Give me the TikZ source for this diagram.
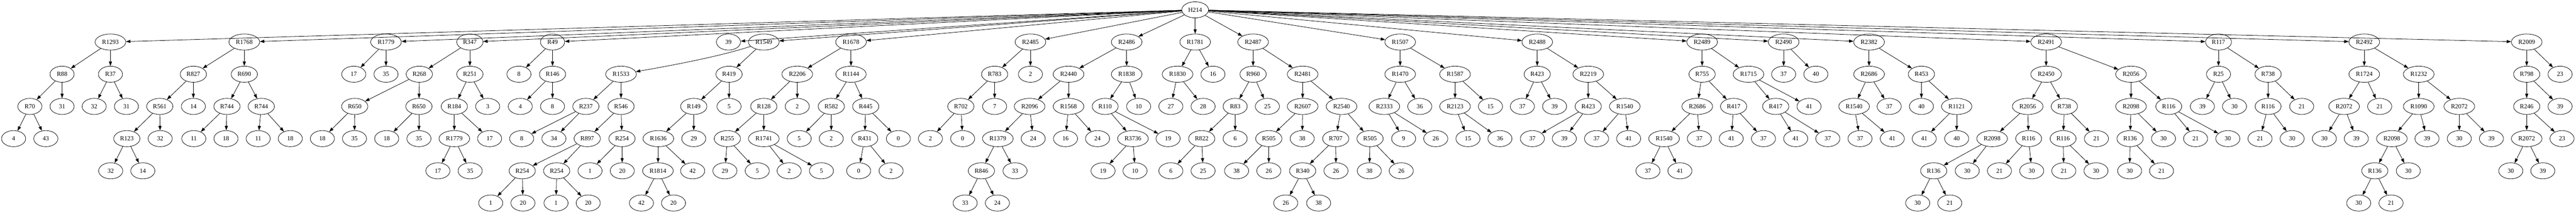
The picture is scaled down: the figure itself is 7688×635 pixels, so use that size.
\documentclass[tikz,border=0pt]{standalone}
\usepackage{fontspec}
\setmainfont{Liberation Serif}
\usetikzlibrary{shapes.geometric,arrows.meta}
\tikzset{
  nd/.style={draw, ellipse, line width=1.2pt, minimum width=72pt, minimum height=48pt,
    inner xsep=7.5pt, inner ysep=3pt, font=\fontsize{18.67}{20}\selectfont},
  edge/.style={line width=1.2pt, -{Triangle[length=13.3pt,width=9.3pt]}}
}
\begin{document}
\begin{tikzpicture}[x=1pt,y=1pt]
\useasboundingbox (0,0) rectangle (7688,-635);
% level 0
\node[nd] (root) at (3566.9,-29.3) {H214};
% level 1
\node[nd] (a) at (329.6,-125.3) {R1293};
\node[nd] (b) at (729.1,-125.3) {R1768};
\node[nd] (c) at (1152.0,-125.3) {R1779};
\node[nd] (d) at (1402.3,-125.3) {R347};
\node[nd] (e) at (1649.0,-125.3) {R49};
\node[nd] (f) at (2174.1,-125.3) {39};
\node[nd] (g) at (2279.5,-125.3) {R1549};
\node[nd] (h) at (2539.8,-125.3) {R1678};
\node[nd] (i) at (3075.3,-125.3) {R2485};
\node[nd] (j) at (3362.5,-125.3) {R2486};
\node[nd] (k) at (3566.9,-125.3) {R1781};
\node[nd] (l) at (3739.8,-125.3) {R2487};
\node[nd] (m) at (4178.7,-125.3) {R1507};
\node[nd] (n) at (4587.8,-125.3) {R2488};
\node[nd] (o) at (5079.9,-125.3) {R2489};
\node[nd] (p) at (5323.2,-125.3) {R2490};
\node[nd] (q) at (5578.1,-125.3) {R2382};
\node[nd] (r) at (6106.6,-125.3) {R2491};
\node[nd] (s) at (6621.0,-125.3) {R117};
\node[nd] (t) at (7056.0,-125.3) {R2492};
\node[nd] (u) at (7540.8,-125.3) {R2009};
% subtree a
\node[nd] (a1) at (185.3,-221.3) {R88};
\node[nd] (a2) at (329.6,-221.3) {R37};
\node[nd] (a11) at (89.1,-317.3) {R70};
\node[nd] (a12) at (185.3,-317.3) {31};
\node[nd] (a21) at (281.1,-317.3) {32};
\node[nd] (a22) at (377.3,-317.3) {31};
\node[nd] (a111) at (40.6,-413.3) {4};
\node[nd] (a112) at (136.8,-413.3) {43};
% subtree b
\node[nd] (b1) at (577.1,-221.3) {R827};
\node[nd] (b2) at (729.1,-221.3) {R690};
\node[nd] (b11) at (476.8,-317.3) {R561};
\node[nd] (b12) at (577.1,-317.3) {14};
\node[nd] (b111) at (378.5,-413.3) {R123};
\node[nd] (b112) at (478.0,-413.3) {32};
\node[nd] (b1111) at (330.4,-509.3) {32};
\node[nd] (b1112) at (426.2,-509.3) {14};
\node[nd] (b21) at (677.3,-317.3) {R744};
\node[nd] (b22) at (779.7,-317.3) {R744};
\node[nd] (b211) at (578.4,-413.3) {11};
\node[nd] (b212) at (674.4,-413.3) {18};
\node[nd] (b221) at (770.6,-413.3) {11};
\node[nd] (b222) at (866.4,-413.3) {18};
% subtree c
\node[nd] (c1) at (1055.8,-221.3) {17};
\node[nd] (c2) at (1152.0,-221.3) {35};
% subtree d
\node[nd] (d1) at (1251.5,-221.3) {R268};
\node[nd] (d2) at (1402.3,-221.3) {R251};
\node[nd] (d11) at (1058.7,-317.3) {R650};
\node[nd] (d12) at (1250.3,-317.3) {R650};
\node[nd] (d111) at (962.1,-413.3) {18};
\node[nd] (d112) at (1057.9,-413.3) {35};
\node[nd] (d121) at (1154.1,-413.3) {18};
\node[nd] (d122) at (1250.3,-413.3) {35};
\node[nd] (d21) at (1355.9,-317.3) {R184};
\node[nd] (d22) at (1455.4,-317.3) {3};
\node[nd] (d211) at (1355.9,-413.3) {R1779};
\node[nd] (d212) at (1461.2,-413.3) {17};
\node[nd] (d2111) at (1306.9,-509.3) {17};
\node[nd] (d2112) at (1403.1,-509.3) {35};
% subtree e
\node[nd] (e1) at (1548.7,-221.3) {8};
\node[nd] (e2) at (1649.0,-221.3) {R146};
\node[nd] (e21) at (1552.8,-317.3) {4};
\node[nd] (e22) at (1649.0,-317.3) {8};
% subtree g
\node[nd] (g1) at (1853.4,-221.3) {R1533};
\node[nd] (g2) at (2175.8,-221.3) {R419};
\node[nd] (g11) at (1748.5,-317.3) {R237};
\node[nd] (g12) at (1853.4,-317.3) {R546};
\node[nd] (g111) at (1556.9,-413.3) {8};
\node[nd] (g112) at (1653.1,-413.3) {34};
\node[nd] (g121) at (1752.6,-413.3) {R897};
\node[nd] (g122) at (1856.3,-413.3) {R254};
\node[nd] (g1211) at (1558.6,-509.3) {R254};
\node[nd] (g1212) at (1661.4,-509.3) {R254};
\node[nd] (g12111) at (1464.5,-605.3) {1};
\node[nd] (g12112) at (1560.7,-605.3) {20};
\node[nd] (g12121) at (1659.4,-605.3) {1};
\node[nd] (g12122) at (1755.5,-605.3) {20};
\node[nd] (g1221) at (1760.9,-509.3) {1};
\node[nd] (g1222) at (1857.1,-509.3) {20};
\node[nd] (g21) at (2070.5,-317.3) {R149};
\node[nd] (g22) at (2175.8,-317.3) {5};
\node[nd] (g211) at (1964.8,-413.3) {R1636};
\node[nd] (g212) at (2070.5,-413.3) {29};
\node[nd] (g2111) at (1963.5,-509.3) {R1814};
\node[nd] (g2112) at (2067.2,-509.3) {42};
\node[nd] (g21111) at (1914.3,-605.3) {42};
\node[nd] (g21112) at (2010.0,-605.3) {20};
% subtree h
\node[nd] (h1) at (2379.4,-221.3) {R2206};
\node[nd] (h2) at (2539.8,-221.3) {R1144};
\node[nd] (h11) at (2279.5,-317.3) {R128};
\node[nd] (h12) at (2379.4,-317.3) {2};
\node[nd] (h111) at (2170.8,-413.3) {R255};
\node[nd] (h112) at (2279.5,-413.3) {R1741};
\node[nd] (h1111) at (2163.4,-509.3) {29};
\node[nd] (h1112) at (2260.0,-509.3) {5};
\node[nd] (h1121) at (2355.3,-509.3) {2};
\node[nd] (h1122) at (2451.5,-509.3) {5};
\node[nd] (h21) at (2480.9,-317.3) {R582};
\node[nd] (h22) at (2583.6,-317.3) {R445};
\node[nd] (h211) at (2385.2,-413.3) {5};
\node[nd] (h212) at (2480.9,-413.3) {2};
\node[nd] (h221) at (2580.7,-413.3) {R431};
\node[nd] (h222) at (2681.1,-413.3) {0};
\node[nd] (h2211) at (2562.6,-509.3) {0};
\node[nd] (h2212) at (2659.5,-509.3) {2};
% subtree i
\node[nd] (i1) at (2968.4,-221.3) {R783};
\node[nd] (i2) at (3075.3,-221.3) {2};
\node[nd] (i11) at (2867.6,-317.3) {R702};
\node[nd] (i12) at (2968.4,-317.3) {7};
\node[nd] (i111) at (2776.8,-413.3) {2};
\node[nd] (i112) at (2873.0,-413.3) {0};
% subtree j
\node[nd] (j1) at (3189.0,-221.3) {R2440};
\node[nd] (j2) at (3362.5,-221.3) {R1838};
\node[nd] (j11) at (3072.8,-317.3) {R2096};
\node[nd] (j12) at (3189.0,-317.3) {R1568};
\node[nd] (j111) at (2977.9,-413.3) {R1379};
\node[nd] (j112) at (3083.6,-413.3) {24};
\node[nd] (j1111) at (2929.0,-509.3) {R846};
\node[nd] (j1112) at (3029.3,-509.3) {33};
\node[nd] (j11111) at (2880.5,-605.3) {33};
\node[nd] (j11112) at (2976.7,-605.3) {24};
\node[nd] (j121) at (3180.0,-413.3) {16};
\node[nd] (j122) at (3275.5,-413.3) {24};
\node[nd] (j21) at (3298.3,-317.3) {R110};
\node[nd] (j22) at (3398.2,-317.3) {10};
\node[nd] (j211) at (3381.2,-413.3) {R3736};
\node[nd] (j212) at (3486.1,-413.3) {19};
\node[nd] (j2111) at (3292.0,-509.3) {19};
\node[nd] (j2112) at (3387.4,-509.3) {10};
% subtree k
\node[nd] (k1) at (3514.3,-221.3) {R1830};
\node[nd] (k2) at (3620.0,-221.3) {16};
\node[nd] (k11) at (3494.4,-317.3) {27};
\node[nd] (k12) at (3590.5,-317.3) {28};
% subtree l
\node[nd] (l1) at (3739.8,-221.3) {R960};
\node[nd] (l2) at (3887.7,-221.3) {R2481};
\node[nd] (l11) at (3686.3,-317.3) {R83};
\node[nd] (l12) at (3782.5,-317.3) {25};
\node[nd] (l111) at (3586.4,-413.3) {R822};
\node[nd] (l112) at (3686.3,-413.3) {6};
\node[nd] (l1111) at (3494.4,-509.3) {6};
\node[nd] (l1112) at (3590.5,-509.3) {25};
\node[nd] (l21) at (3887.7,-317.3) {R2607};
\node[nd] (l22) at (4003.8,-317.3) {R2540};
\node[nd] (l211) at (3786.7,-413.3) {R505};
\node[nd] (l212) at (3886.4,-413.3) {38};
\node[nd] (l2111) at (3690.5,-509.3) {38};
\node[nd] (l2112) at (3786.7,-509.3) {26};
\node[nd] (l221) at (3986.4,-413.3) {R707};
\node[nd] (l222) at (4088.8,-413.3) {R505};
\node[nd] (l2211) at (3887.7,-509.3) {R340};
\node[nd] (l2212) at (3987.2,-509.3) {26};
\node[nd] (l22111) at (3837.2,-605.3) {26};
\node[nd] (l22112) at (3935.4,-605.3) {38};
\node[nd] (l2221) at (4086.7,-509.3) {38};
\node[nd] (l2222) at (4182.0,-509.3) {26};
% subtree m
\node[nd] (m1) at (4178.7,-221.3) {R1470};
\node[nd] (m2) at (4342.5,-221.3) {R1587};
\node[nd] (m11) at (4131.5,-317.3) {R2333};
\node[nd] (m12) at (4237.2,-317.3) {36};
\node[nd] (m111) at (4189.1,-413.3) {9};
\node[nd] (m112) at (4284.9,-413.3) {26};
\node[nd] (m21) at (4342.5,-317.3) {R2123};
\node[nd] (m22) at (4448.2,-317.3) {15};
\node[nd] (m211) at (4381.0,-413.3) {15};
\node[nd] (m212) at (4476.4,-413.3) {36};
% subtree n
\node[nd] (n1) at (4587.8,-221.3) {R423};
\node[nd] (n2) at (4740.0,-221.3) {R2219};
\node[nd] (n11) at (4543.4,-317.3) {37};
\node[nd] (n12) at (4639.6,-317.3) {39};
\node[nd] (n21) at (4740.0,-317.3) {R423};
\node[nd] (n22) at (4849.0,-317.3) {R1540};
\node[nd] (n211) at (4573.3,-413.3) {37};
\node[nd] (n212) at (4668.6,-413.3) {39};
\node[nd] (n221) at (4764.8,-413.3) {37};
\node[nd] (n222) at (4860.6,-413.3) {41};
% subtree o
\node[nd] (o1) at (5079.9,-221.3) {R755};
\node[nd] (o2) at (5218.3,-221.3) {R1715};
\node[nd] (o11) at (5065.4,-317.3) {R2686};
\node[nd] (o12) at (5173.9,-317.3) {R417};
\node[nd] (o111) at (4966.3,-413.3) {R1540};
\node[nd] (o112) at (5071.6,-413.3) {37};
\node[nd] (o1111) at (4918.2,-509.3) {37};
\node[nd] (o1112) at (5013.6,-509.3) {41};
\node[nd] (o121) at (5166.8,-413.3) {41};
\node[nd] (o122) at (5263.0,-413.3) {37};
\node[nd] (o21) at (5299.5,-317.3) {R417};
\node[nd] (o22) at (5399.0,-317.3) {41};
\node[nd] (o211) at (5359.2,-413.3) {41};
\node[nd] (o212) at (5455.0,-413.3) {37};
% subtree p
\node[nd] (p1) at (5323.2,-221.3) {37};
\node[nd] (p2) at (5419.3,-221.3) {40};
% subtree q
\node[nd] (q1) at (5578.1,-221.3) {R2686};
\node[nd] (q2) at (5734.4,-221.3) {R453};
\node[nd] (q11) at (5533.4,-317.3) {R1540};
\node[nd] (q12) at (5638.2,-317.3) {37};
\node[nd] (q111) at (5551.2,-413.3) {37};
\node[nd] (q112) at (5647.4,-413.3) {41};
\node[nd] (q21) at (5734.4,-317.3) {40};
\node[nd] (q22) at (5839.6,-317.3) {R1121};
\node[nd] (q221) at (5742.7,-413.3) {41};
\node[nd] (q222) at (5839.6,-413.3) {40};
% subtree r
\node[nd] (r1) at (6106.6,-221.3) {R2450};
\node[nd] (r2) at (6359.9,-221.3) {R2056};
\node[nd] (r11) at (6051.5,-317.3) {R2056};
\node[nd] (r12) at (6160.9,-317.3) {R738};
\node[nd] (r111) at (5945.3,-413.3) {R2098};
\node[nd] (r112) at (6054.4,-413.3) {R116};
\node[nd] (r1111) at (5771.0,-509.3) {R136};
\node[nd] (r1112) at (5871.1,-509.3) {30};
\node[nd] (r11111) at (5723.2,-605.3) {30};
\node[nd] (r11112) at (5818.9,-605.3) {21};
\node[nd] (r1121) at (5967.3,-509.3) {21};
\node[nd] (r1122) at (6063.5,-509.3) {30};
\node[nd] (r121) at (6157.2,-413.3) {R116};
\node[nd] (r122) at (6256.7,-413.3) {21};
\node[nd] (r1211) at (6159.3,-509.3) {21};
\node[nd] (r1212) at (6255.4,-509.3) {30};
\node[nd] (r21) at (6359.9,-317.3) {R2098};
\node[nd] (r22) at (6472.6,-317.3) {R116};
\node[nd] (r211) at (6357.0,-413.3) {R136};
\node[nd] (r212) at (6456.8,-413.3) {30};
\node[nd] (r2111) at (6355.8,-509.3) {30};
\node[nd] (r2112) at (6451.0,-509.3) {21};
\node[nd] (r221) at (6552.6,-413.3) {21};
\node[nd] (r222) at (6648.8,-413.3) {30};
% subtree s
\node[nd] (s1) at (6621.0,-221.3) {R25};
\node[nd] (s2) at (6769.0,-221.3) {R738};
\node[nd] (s11) at (6572.9,-317.3) {39};
\node[nd] (s12) at (6668.7,-317.3) {30};
\node[nd] (s21) at (6769.0,-317.3) {R116};
\node[nd] (s22) at (6869.3,-317.3) {21};
\node[nd] (s211) at (6744.9,-413.3) {21};
\node[nd] (s212) at (6840.7,-413.3) {30};
% subtree t
\node[nd] (t1) at (7056.0,-221.3) {R1724};
\node[nd] (t2) at (7218.5,-221.3) {R1232};
\node[nd] (t11) at (6995.8,-317.3) {R2072};
\node[nd] (t12) at (7102.0,-317.3) {21};
\node[nd] (t111) at (6936.9,-413.3) {30};
\node[nd] (t112) at (7032.3,-413.3) {39};
\node[nd] (t21) at (7218.5,-317.3) {R1090};
\node[nd] (t22) at (7339.6,-317.3) {R2072};
\node[nd] (t211) at (7138.3,-413.3) {R2098};
\node[nd] (t212) at (7243.3,-413.3) {39};
\node[nd] (t2111) at (7087.5,-509.3) {R136};
\node[nd] (t2112) at (7187.5,-509.3) {30};
\node[nd] (t21111) at (7039.5,-605.3) {30};
\node[nd] (t21112) at (7135.9,-605.3) {21};
\node[nd] (t221) at (7339.6,-413.3) {30};
\node[nd] (t222) at (7435.5,-413.3) {39};
% subtree u
\node[nd] (u1) at (7540.8,-221.3) {R798};
\node[nd] (u2) at (7640.4,-221.3) {23};
\node[nd] (u11) at (7540.8,-317.3) {R246};
\node[nd] (u12) at (7640.4,-317.3) {39};
\node[nd] (u111) at (7540.8,-413.3) {R2072};
\node[nd] (u112) at (7646.2,-413.3) {23};
\node[nd] (u1111) at (7493.3,-509.3) {30};
\node[nd] (u1112) at (7588.8,-509.3) {39};
% edges
\foreach \pa/\cs in {root/{a,b,c,d,e,f,g,h,i,j,k,l,m,n,o,p,q,r,s,t,u},
  a/{a1,a2}, a1/{a11,a12}, a11/{a111,a112}, a2/{a21,a22},
  b/{b1,b2}, b1/{b11,b12}, b11/{b111,b112}, b111/{b1111,b1112}, b2/{b21,b22}, b21/{b211,b212}, b22/{b221,b222},
  c/{c1,c2},
  d/{d1,d2}, d1/{d11,d12}, d11/{d111,d112}, d12/{d121,d122}, d2/{d21,d22}, d21/{d211,d212}, d211/{d2111,d2112},
  e/{e1,e2}, e2/{e21,e22},
  g/{g2}, g1/{g11,g12}, g11/{g111,g112}, g12/{g121,g122}, g121/{g1211,g1212}, g1211/{g12111,g12112}, g1212/{g12121,g12122}, g122/{g1221,g1222},
  g2/{g21,g22}, g21/{g211,g212}, g211/{g2111,g2112}, g2111/{g21111,g21112},
  h/{h1,h2}, h1/{h11,h12}, h11/{h111,h112}, h111/{h1111,h1112}, h112/{h1121,h1122}, h2/{h21,h22}, h21/{h211,h212}, h22/{h221,h222}, h221/{h2211,h2212},
  i/{i1,i2}, i1/{i11,i12}, i11/{i111,i112},
  j/{j1,j2}, j1/{j11,j12}, j11/{j111,j112}, j111/{j1111,j1112}, j1111/{j11111,j11112}, j12/{j121,j122}, j2/{j21,j22}, j21/{j211,j212}, j211/{j2111,j2112},
  k/{k1,k2}, k1/{k11,k12},
  l/{l1,l2}, l1/{l11,l12}, l11/{l111,l112}, l111/{l1111,l1112}, l2/{l21,l22}, l21/{l211,l212}, l211/{l2111,l2112}, l22/{l221,l222}, l221/{l2211,l2212}, l2211/{l22111,l22112}, l222/{l2221,l2222},
  m/{m1,m2}, m1/{m11,m12}, m11/{m111,m112}, m2/{m21,m22}, m21/{m211,m212},
  n/{n1,n2}, n1/{n11,n12}, n2/{n21,n22}, n21/{n211,n212}, n22/{n221,n222},
  o/{o1,o2}, o1/{o11,o12}, o11/{o111,o112}, o111/{o1111,o1112}, o12/{o121,o122}, o2/{o21,o22}, o21/{o211,o212},
  p/{p1,p2},
  q/{q1,q2}, q1/{q11,q12}, q11/{q111,q112}, q2/{q21,q22}, q22/{q221,q222},
  r/{r1,r2}, r1/{r11,r12}, r11/{r111,r112}, r111/{r1111,r1112}, r1111/{r11111,r11112}, r112/{r1121,r1122}, r12/{r121,r122}, r121/{r1211,r1212},
  r2/{r21,r22}, r21/{r211,r212}, r211/{r2111,r2112}, r22/{r221,r222},
  s/{s1,s2}, s1/{s11,s12}, s2/{s21,s22}, s21/{s211,s212},
  t/{t1,t2}, t1/{t11,t12}, t11/{t111,t112}, t2/{t21,t22}, t21/{t211,t212}, t211/{t2111,t2112}, t2111/{t21111,t21112}, t22/{t221,t222},
  u/{u1,u2}, u1/{u11,u12}, u11/{u111,u112}, u111/{u1111,u1112}}
  {\foreach \ch in \cs {\draw[edge] (\pa) -- (\ch);}}
\draw[edge] (g) .. controls (2150,-168) and (2000,-196) .. (g1);
\end{tikzpicture}
\end{document}
